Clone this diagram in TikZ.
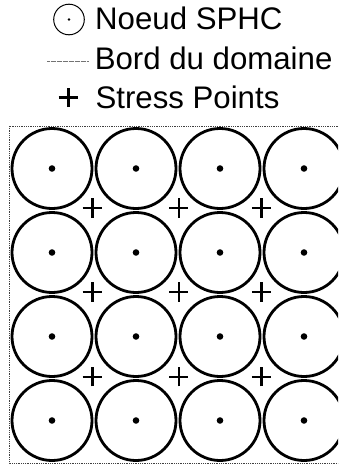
\documentclass[tikz,border=0pt]{standalone}
\usepackage{fontspec}
\setmainfont{Liberation Sans}
\usetikzlibrary{shapes.misc}
\begin{document}
\begin{tikzpicture}[x=1pt,y=1pt,
  sphc/.style={circle,draw,line width=2.8pt,minimum size=80pt,inner sep=0pt},
  legcirc/.style={circle,draw,line width=1pt,minimum size=30.6pt,inner sep=0pt},
  plusmark/.style={cross out,draw,line width=2.5pt,rotate=45,minimum size=11.2pt,inner sep=0pt},
  legtext/.style={anchor=base west,inner sep=0pt,font=\fontsize{31.2}{36}\selectfont},
  border/.style={line width=0.9pt,black!75,dash pattern=on 0.9pt off 0.9pt}]
\clip (0,0) rectangle (338,-466);
\fill[white] (0,0) rectangle (338,-466);
% legend
\node[legcirc] (lc) at (69,-19.5) {};
\fill (lc.center) circle (1.3pt);
\node[legtext] (t1) at (95,-29.3) {Noeud SPHC};
\coordinate (la) at (47,-61.7);
\coordinate (lb) at (88,-61.7);
\draw[line width=0.7pt,black!55,dash pattern=on 0.6pt off 0.6pt] (la) -- (lb);
\node[legtext] (t2) at (94.6,-69) {Bord du domaine};
\node[plusmark] (lp) at (68.3,-97.5) {};
\node[legtext] (t3) at (95.4,-108.5) {Stress Points};
% domain border
\draw[border] (9,-126) rectangle (346,-463);
% SPHC nodes
\foreach \i in {1,...,4}{
  \foreach \j in {1,...,4}{
    \node[sphc] (c\i\j) at ({52+84*(\i-1)},{-168.5-84*(\j-1)}) {};
    \fill (c\i\j.center) circle (3.3pt);
  }
}
% stress points
\foreach \i/\x in {1/92.3,2/178.8,3/261.5}{
  \foreach \j/\y in {1/208,2/292,3/376.8}{
    \node[plusmark] (s\i\j) at (\x,-\y) {};
  }
}
\end{tikzpicture}
\end{document}
